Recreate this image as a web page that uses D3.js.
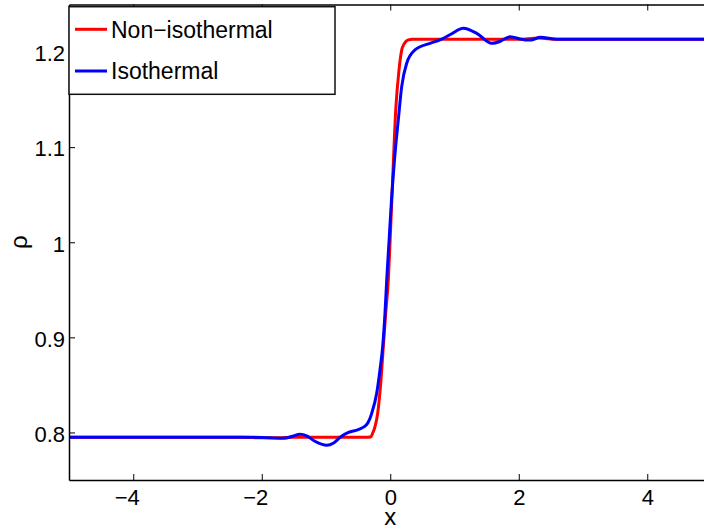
<!DOCTYPE html>
<html>
<head>
<meta charset="utf-8">
<script src="https://cdn.jsdelivr.net/npm/d3@7"></script>
<style>
  html, body { margin: 0; padding: 0; background: #fff; }
  svg { display: block; }
  text { font-family: "Liberation Sans", Arial, Helvetica, sans-serif; fill: #000; }
</style>
</head>
<body>
<svg id="chart" width="704" height="531"></svg>
<script>
// ---- data ----
const seriesNames = ["Non\u2212isothermal", "Isothermal"];

const redX = [-5, -3, -2.3, -2.0, -1.75, -1.5, -0.6, -0.35, -0.3, -0.273, -0.237, -0.195, -0.144, -0.108, -0.071, -0.03, 0.0, 0.04, 0.085, 0.136, 0.178, 0.22, 0.27, 0.35, 1.0, 2.0, 2.3, 2.6, 3.5, 5];
const redY = [0.795, 0.795, 0.795, 0.7943, 0.7945, 0.795, 0.795, 0.795, 0.7955, 0.7994, 0.806, 0.8205, 0.8552, 0.8902, 0.9253, 0.9603, 1.005, 1.07, 1.139, 1.181, 1.202, 1.209, 1.2125, 1.2135, 1.2135, 1.2135, 1.2147, 1.2135, 1.2135, 1.2135];

const blueX = [-5, -3, -2.2, -1.9, -1.65, -1.52, -1.405, -1.3, -1.18, -0.986, -0.88, -0.77, -0.65, -0.5, -0.377, -0.32, -0.289, -0.211, -0.16, -0.118, -0.082, -0.055, -0.02, 0.02, 0.07, 0.125, 0.178, 0.256, 0.385, 0.619, 0.774, 0.95, 1.137, 1.346, 1.579, 1.72, 1.864, 2.046, 2.1, 2.2, 2.334, 2.6, 3.5, 5];
const blueY = [0.795, 0.795, 0.795, 0.7945, 0.794, 0.796, 0.798, 0.7965, 0.791, 0.7865, 0.789, 0.7955, 0.8, 0.803, 0.8075, 0.814, 0.8201, 0.8412, 0.8657, 0.8902, 0.9253, 0.9603, 1.0, 1.045, 1.09, 1.1285, 1.1636, 1.1882, 1.2022, 1.2092, 1.2127, 1.219, 1.225, 1.2197, 1.2092, 1.2115, 1.2161, 1.2134, 1.2127, 1.2128, 1.2155, 1.2135, 1.2135, 1.2135];

const xTicks = [-4, -2, 0, 2, 4];
const yTicks = [0.8, 0.9, 1, 1.1, 1.2];
const xDomain = [-5, 5];
const yDomain = [0.75, 1.25];
const xLabel = "x";
const yLabel = "\u03c1";

// ---- layout ----
const plot = { left: 69, right: 711.5, top: 4.5, bottom: 480 };
const colors = ["#ff0000", "#0000ff"];
const fmt = d3.format("");

const svg = d3.select("#chart");
svg.append("rect").attr("width", 704).attr("height", 531).attr("fill", "#fff");

const x = d3.scaleLinear().domain(xDomain).range([plot.left, plot.right]);
const y = d3.scaleLinear().domain(yDomain).range([plot.bottom, plot.top]);

svg.append("defs").append("clipPath").attr("id", "clip")
  .append("rect")
  .attr("x", plot.left).attr("y", plot.top)
  .attr("width", plot.right - plot.left).attr("height", plot.bottom - plot.top);

// curves
const line = d3.line().x(d => x(d[0])).y(d => y(d[1])).curve(d3.curveMonotoneX);
const series = [d3.zip(redX, redY), d3.zip(blueX, blueY)];
const curves = svg.append("g").attr("clip-path", "url(#clip)");
series.forEach((s, i) => {
  curves.append("path")
    .datum(s)
    .attr("d", line)
    .attr("fill", "none")
    .attr("stroke", colors[i])
    .attr("stroke-width", 3)
    .attr("stroke-linejoin", "round")
    .attr("stroke-linecap", "round");
});

// axes
function styleAxis(g) {
  g.select(".domain").attr("stroke", "#000").attr("stroke-width", 1.5);
  g.selectAll(".tick line").attr("stroke", "#000").attr("stroke-width", 1);
}

const gBottom = svg.append("g")
  .attr("transform", `translate(0,${plot.bottom})`)
  .call(d3.axisBottom(x).tickValues(xTicks).tickSizeInner(-6).tickSizeOuter(0).tickFormat(fmt));
styleAxis(gBottom);
gBottom.selectAll(".tick text")
  .attr("y", 25).attr("dy", null)
  .attr("font-size", 22)
  .attr("text-anchor", d => d < 0 ? "end" : "middle")
  .attr("x", d => d < 0 ? 6 : 0)
  .text(d => d < 0 ? "\u2212" + fmt(-d) : fmt(d));

const gTop = svg.append("g")
  .attr("transform", `translate(0,${plot.top})`)
  .call(d3.axisTop(x).tickValues(xTicks).tickSizeInner(-6).tickSizeOuter(0).tickFormat(""));
styleAxis(gTop);

const gLeft = svg.append("g")
  .attr("transform", `translate(${plot.left},0)`)
  .call(d3.axisLeft(y).tickValues(yTicks).tickSizeInner(-6).tickSizeOuter(0).tickFormat(fmt));
styleAxis(gLeft);
gLeft.selectAll(".tick text")
  .attr("x", -4).attr("dy", "0.4em")
  .attr("font-size", 22);

const gRight = svg.append("g")
  .attr("transform", `translate(${plot.right},0)`)
  .call(d3.axisRight(y).tickValues(yTicks).tickSizeInner(-6).tickSizeOuter(0).tickFormat(""));
styleAxis(gRight);

svg.selectAll(".tick text").attr("font-family", "'Liberation Sans', Arial, Helvetica, sans-serif").attr("fill", "#000");

// axis labels
svg.append("text")
  .attr("x", x(0)).attr("y", 525)
  .attr("text-anchor", "middle")
  .attr("font-size", 24)
  .text(xLabel);

svg.append("text")
  .attr("transform", `translate(27,${y(1)}) rotate(-90)`)
  .attr("text-anchor", "middle")
  .attr("font-size", 24)
  .text(yLabel);

// legend
const legend = svg.append("g");
legend.append("rect")
  .attr("x", 69).attr("y", 6.7).attr("width", 266).attr("height", 87.6)
  .attr("fill", "#fff").attr("stroke", "#111").attr("stroke-width", 1.5);
const legendRows = [29.3, 71];
seriesNames.forEach((name, i) => {
  legend.append("line")
    .attr("x1", 75).attr("x2", 107)
    .attr("y1", legendRows[i]).attr("y2", legendRows[i])
    .attr("stroke", colors[i]).attr("stroke-width", 3);
  legend.append("text")
    .attr("x", 111).attr("y", legendRows[i] + 8.3)
    .attr("font-size", 23)
    .text(name);
});
</script>
</body>
</html>
